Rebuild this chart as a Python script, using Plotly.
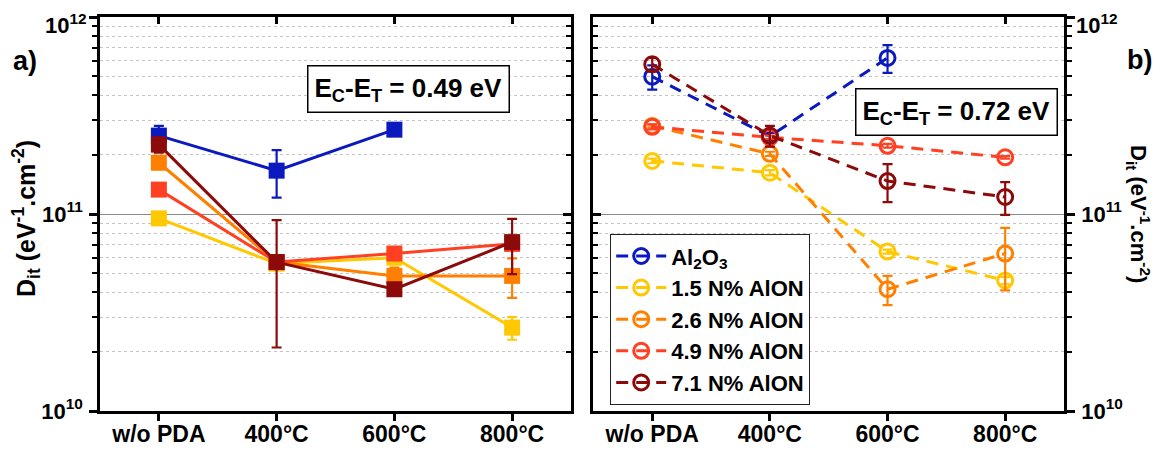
import plotly.graph_objects as go

categories = ["w/o PDA", "400°C", "600°C", "800°C"]
series_names = ["Al<sub>2</sub>O<sub>3</sub>", "1.5 N% AlON", "2.6 N% AlON", "4.9 N% AlON", "7.1 N% AlON"]
colors = ["#0A1ABF", "#FFC800", "#FF8000", "#FF4022", "#8C0A0A"]

# Panel a) E_C-E_T = 0.49 eV
a_al2o3 = [2.50e11, 1.66e11, 2.68e11, None]
a_n15 = [9.5e10, 5.6e10, 6.0e10, 2.65e10]
a_n26 = [1.82e11, 5.7e10, 4.85e10, 4.85e10]
a_n49 = [1.33e11, 5.7e10, 6.3e10, 7.05e10]
a_n71 = [2.25e11, 5.7e10, 4.15e10, 7.2e10]
a_err_al2o3 = [0.3e11, 0.45e11, 0.1e11, 0]
a_err_n15 = [0.4e10, 0.2e10, 0.2e10, 0.35e10]
a_err_n26 = [0.5e10, 0.2e10, 0.5e10, 1.1e10]
a_err_n49 = [0.3e10, 0.2e10, 0.4e10, 0.3e10]
a_err_n71 = [0.2e11, 3.6e10, 0.3e10, 2.25e10]

# Panel b) E_C-E_T = 0.72 eV
b_al2o3 = [4.98e11, 2.48e11, 6.2e11, None]
b_n15 = [1.86e11, 1.62e11, 6.45e10, 4.6e10]
b_n26 = [2.8e11, 2.02e11, 4.15e10, 6.3e10]
b_n49 = [2.77e11, 2.45e11, 2.22e11, 1.94e11]
b_n71 = [5.75e11, 2.5e11, 1.47e11, 1.22e11]
b_err_al2o3 = [0.7e11, 0.1e11, 1.0e11, 0]
b_err_n15 = [0.05e11, 0.05e11, 0.15e10, 0.2e10]
b_err_n26 = [0.05e11, 0.05e11, 0.7e10, 2.2e10]
b_err_n49 = [0.08e11, 0.05e11, 0.05e11, 0.03e11]
b_err_n71 = [0.45e11, 0.3e11, 0.32e11, 0.23e11]

y_major = [1e10, 1e11, 1e12]
y_major_text = ["10<sup>10</sup>", "10<sup>11</sup>", ""]
y_top_label = "10<sup>12</sup>"
y_minor = [m * 10 ** e for e in (10, 11) for m in range(2, 10)]

FONT = "Liberation Sans, Arial, sans-serif"
xpos = list(range(len(categories)))

# page has an 8px body margin: figure is 1152x442 placed at (8, 8)
W, H, OFF = 1152, 442, 8
def px(X):
    return (X - OFF) / W
def py(Y):
    return 1 - (Y - OFF) / H

a_vals = [a_al2o3, a_n15, a_n26, a_n49, a_n71]
a_errs = [a_err_al2o3, a_err_n15, a_err_n26, a_err_n49, a_err_n71]
b_vals = [b_al2o3, b_n15, b_n26, b_n49, b_n71]
b_errs = [b_err_al2o3, b_err_n15, b_err_n26, b_err_n49, b_err_n71]

fig = go.Figure()

for name, c, v, e in zip(series_names, colors, a_vals, a_errs):
    fig.add_trace(go.Scatter(
        x=xpos, y=v, mode="lines+markers", name=name, showlegend=False,
        line=dict(color=c, width=3),
        marker=dict(symbol="square", size=16, color=c),
        error_y=dict(type="data", array=e, color=c, thickness=2.2, width=5),
        xaxis="x", yaxis="y", connectgaps=False,
    ))

for name, c, v, e in zip(series_names, colors, b_vals, b_errs):
    fig.add_trace(go.Scatter(
        x=xpos, y=v, mode="lines+markers", name=name, showlegend=True,
        line=dict(color=c, width=3, dash="12px,8px"),
        marker=dict(symbol="circle-open", size=15, color=c, line=dict(width=3, color=c)),
        error_y=dict(type="data", array=e, color=c, thickness=2.2, width=5),
        xaxis="x2", yaxis="y2", connectgaps=False,
    ))

# invisible traces to activate the mirror-tick axes
for xa, ya in (("x3", "y3"), ("x4", "y4")):
    fig.add_trace(go.Scatter(x=[0], y=[1e11], mode="markers", marker=dict(opacity=0),
                             showlegend=False, hoverinfo="skip", xaxis=xa, yaxis=ya))

dom_a = [px(100), px(571)]
dom_b = [px(593.4), px(1064)]
dom_y = [py(411), py(17)]

xtickfont = dict(family=FONT, size=23, color="black", weight="bold")
ytickfont = dict(family=FONT, size=22, color="black", weight="bold")
LW = 2.5

def xaxis_main(domain, anchor):
    return dict(domain=domain, anchor=anchor, range=[-0.5, 3.5], tickmode="array",
                tickvals=xpos, ticktext=categories, ticks="outside", ticklen=7,
                tickwidth=LW, tickcolor="black", showline=True, linewidth=LW,
                linecolor="black", mirror=True, showgrid=False, zeroline=False,
                tickfont=xtickfont, ticklabelstandoff=-6, fixedrange=True, automargin=False)

def xaxis_top(over, anchor):
    return dict(overlaying=over, anchor=anchor, side="top", range=[-0.5, 3.5],
                tickmode="array", tickvals=xpos, ticks="inside", ticklen=7,
                tickwidth=LW, tickcolor="black", showticklabels=False, showline=False,
                showgrid=False, zeroline=False, automargin=False)

def yaxis_main(anchor, side, domain=None, over=None, labels=True, ticks="outside", grid=True):
    d = dict(anchor=anchor, side=side, type="log", range=[10, 12], tickmode="array",
             tickvals=y_major, ticktext=y_major_text, ticks=ticks, ticklen=8,
             tickwidth=LW, tickcolor="black", showticklabels=labels,
             tickfont=ytickfont, ticklabelstandoff=2, zeroline=False, automargin=False,
             ticklabeloverflow="allow",
             minor=dict(tickvals=y_minor, ticks=ticks, ticklen=5, tickwidth=2,
                        tickcolor="black", showgrid=grid, gridcolor="#c4c4c4",
                        griddash="dot", gridwidth=1),
             showgrid=grid, gridcolor="#8a8a8a", gridwidth=1.3)
    if domain is not None:
        d.update(domain=domain, showline=True, linewidth=LW, linecolor="black", mirror=True)
    if over is not None:
        d.update(overlaying=over, showline=False)
    return d

fig.update_layout(
    width=W, height=H,
    margin=dict(l=0, r=0, t=0, b=0, autoexpand=False),
    paper_bgcolor="white", plot_bgcolor="white",
    font=dict(family=FONT, color="black"),
    xaxis=xaxis_main(dom_a, "y"),
    yaxis=yaxis_main("x", "left", domain=dom_y),
    xaxis2=xaxis_main(dom_b, "y2"),
    yaxis2=yaxis_main("x2", "right", domain=dom_y),
    xaxis3=xaxis_top("x", "y"),
    yaxis3=yaxis_main("x", "right", over="y", labels=False, ticks="inside", grid=False),
    xaxis4=xaxis_top("x2", "y2"),
    yaxis4=yaxis_main("x2", "left", over="y2", labels=False, ticks="inside", grid=False),
    legend=dict(x=px(610), y=py(234), xanchor="left", yanchor="top",
                bgcolor="white", bordercolor="#222222", borderwidth=1.2,
                font=dict(family=FONT, size=22, color="black", weight="bold"),
                itemwidth=50, tracegroupgap=0),
    showlegend=True,
)

ann_font = dict(family=FONT, color="black", weight="bold")
def note(X, Y, text, size, angle=0, boxed=False, xanchor="center"):
    kw = dict(x=px(X), y=py(Y), xref="paper", yref="paper", xanchor=xanchor,
              yanchor="middle", text=text, showarrow=False, textangle=angle,
              font=dict(ann_font, size=size))
    if boxed:
        kw.update(bgcolor="white", bordercolor="black", borderwidth=1.5, borderpad=6)
    fig.add_annotation(**kw)

note(408, 89, "E<sub>C</sub>-E<sub>T</sub> = 0.49 eV", 26, boxed=True)
note(956.5, 111.5, "E<sub>C</sub>-E<sub>T</sub> = 0.72 eV", 26, boxed=True)
note(25, 61, "a)", 27)
note(1139, 60, "b)", 27)
note(26, 219, "D<sub>it</sub> (eV<sup>-1</sup>.cm<sup>-2</sup>)", 25, angle=-90)
note(1139, 214, "D<sub>it</sub> (eV<sup>-1</sup>.cm<sup>-2</sup>)", 22, angle=90)
# top decade labels, nudged just inside the page so the superscript is not clipped
note(89, 24, y_top_label, 22, xanchor="right")
note(1074, 24, y_top_label, 22, xanchor="left")

fig.write_html("out.html")
